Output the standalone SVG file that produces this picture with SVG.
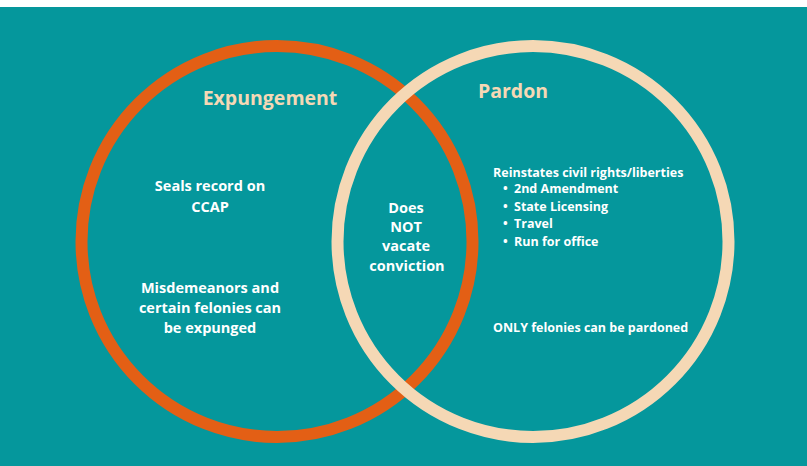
<svg xmlns="http://www.w3.org/2000/svg" width="807" height="466" viewBox="0 0 807 466">
<style>
.t{font-family:"Open Sans","Liberation Sans",sans-serif;font-weight:bold;fill:#ffffff}
.h{font-family:"Open Sans","Liberation Sans",sans-serif;font-weight:bold;fill:#F5D8B5;font-size:19.5px}
.m{font-size:14.5px;text-anchor:middle}
.s{font-size:12.5px}
</style>
<rect x="0" y="0" width="807" height="466" fill="#ffffff"/>
<rect x="0" y="7" width="807" height="459" fill="#05979C"/>
<g id="expungement">
<circle cx="277" cy="241.5" r="195.5" fill="none" stroke="#E35F15" stroke-width="12"/>
<text class="h" x="270" y="105" text-anchor="middle">Expungement</text>
<text class="t m" x="210" y="191">Seals record on</text>
<text class="t m" x="210" y="212">CCAP</text>
<text class="t m" x="210" y="293">Misdemeanors and</text>
<text class="t m" x="210" y="313">certain felonies can</text>
<text class="t m" x="210" y="333">be expunged</text>
</g>
<g id="pardon">
<circle cx="533" cy="241.5" r="195.5" fill="none" stroke="#F5D8B5" stroke-width="12"/>
<text class="h" x="513" y="98" text-anchor="middle">Pardon</text>
<text class="t s" x="493" y="177">Reinstates civil rights/liberties</text>
<text class="t s" x="503" y="193">•</text><text class="t s" x="514" y="193">2nd Amendment</text>
<text class="t s" x="503" y="211">•</text><text class="t s" x="514" y="211">State Licensing</text>
<text class="t s" x="503" y="228">•</text><text class="t s" x="514" y="228">Travel</text>
<text class="t s" x="503" y="246">•</text><text class="t s" x="514" y="246">Run for office</text>
<text class="t s" x="493" y="332">ONLY felonies can be pardoned</text>
</g>
<g id="overlap">
<text class="t m" x="406" y="213">Does</text>
<text class="t m" x="406" y="232">NOT</text>
<text class="t m" x="406" y="251">vacate</text>
<text class="t m" x="407" y="271">conviction</text>
</g>
<g id="connectors"></g>
</svg>
